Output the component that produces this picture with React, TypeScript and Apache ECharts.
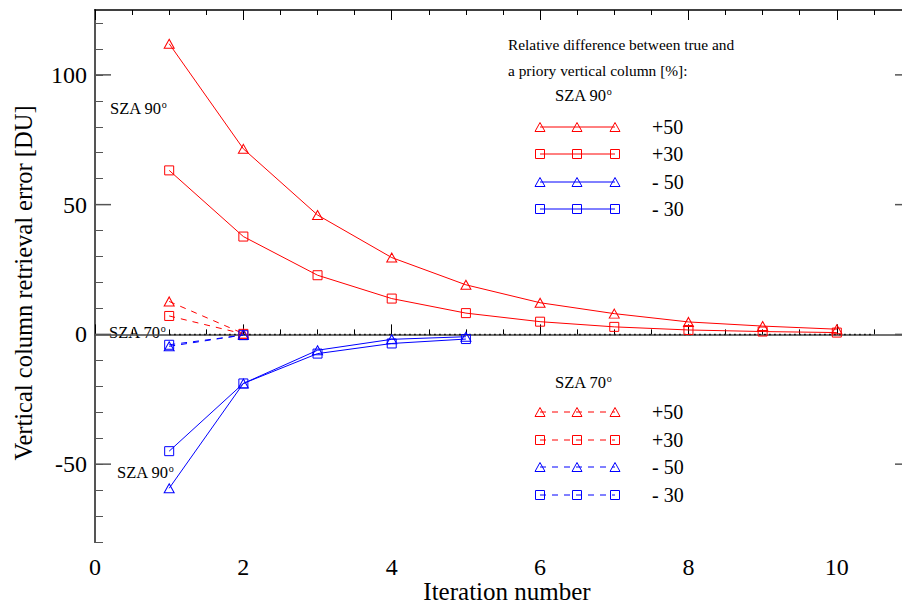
import React, { useEffect, useRef } from "react";
import * as echarts from "echarts";

const iterations = [1, 2, 3, 4, 5, 6, 7, 8, 9, 10];
const sza90Plus50 = [112, 71.5, 46.0, 29.6, 19.1, 12.2, 8.0, 4.8, 3.2, 2.0];
const sza90Plus30 = [63.2, 37.7, 22.8, 13.8, 8.2, 4.9, 2.9, 1.7, 1.1, 0.7];
const sza90Minus50 = [-59.3, -18.9, -6.1, -1.9, -0.9];
const sza90Minus30 = [-45.0, -18.9, -7.4, -3.5, -1.8];
const sza70Plus50 = [12.7, 0.3];
const sza70Plus30 = [7.1, 0.2];
const sza70Minus50 = [-4.6, -0.2];
const sza70Minus30 = [-4.0, -0.3];
const zeroLineX = [1, 10.5];
const yMajorTicks = [-50, 0, 50, 100];
const legendLabels = ["+50", "+30", "- 50", "- 30"];

const RED = "#ff0000";
const BLUE = "#0000ff";
const FONT = "Liberation Serif";

function pairs(vals: number[]) {
  return vals.map((v, i) => [iterations[i], v]);
}

function mkSeries(name: string, vals: number[], color: string, symbol: string, dashed: boolean) {
  return {
    name,
    type: "line",
    data: pairs(vals),
    xAxisIndex: 0,
    yAxisIndex: 0,
    symbol,
    symbolSize: symbol === "triangle" ? [10, 9] : [9, 9],
    showSymbol: true,
    lineStyle: { color, width: 1, type: dashed ? [6, 6] : "solid" },
    itemStyle: { color: "rgba(0,0,0,0)", borderColor: color, borderWidth: 1 },
    emphasis: { disabled: true },
    z: 3,
  };
}

function szaText(x: number, y: number, deg: string, size = 16.5) {
  return {
    type: "text",
    x,
    y,
    style: {
      text: "SZA " + deg + "{s|o}",
      font: `${size}px "${FONT}"`,
      fill: "#000",
      verticalAlign: "middle",
      rich: {
        s: { fontSize: 10, fontFamily: FONT, verticalAlign: "top", lineHeight: 18 },
      },
    },
  };
}

function legendRow(cy: number, color: string, symbol: string, dashed: boolean, label: string) {
  const xs = [540, 577, 615];
  const els: any[] = [
    {
      type: "line",
      shape: { x1: 540, y1: cy, x2: 615, y2: cy },
      style: { stroke: color, lineWidth: 1, lineDash: dashed ? [6, 6] : null },
    },
  ];
  xs.forEach((cx) => {
    if (symbol === "triangle") {
      els.push({
        type: "polygon",
        shape: { points: [[cx - 5, cy + 4.5], [cx + 5, cy + 4.5], [cx, cy - 4.5]] },
        style: { fill: "none", stroke: color, lineWidth: 1 },
      });
    } else {
      els.push({
        type: "rect",
        shape: { x: cx - 4.5, y: cy - 4.5, width: 9, height: 9 },
        style: { fill: "none", stroke: color, lineWidth: 1 },
      });
    }
  });
  els.push({
    type: "text",
    x: 652,
    y: cy,
    style: { text: label, font: `20px "${FONT}"`, fill: "#000", verticalAlign: "middle" },
  });
  return els;
}

export default function App() {
  const ref = useRef<HTMLDivElement>(null);
  useEffect(() => {
    if (!ref.current) return;
    const chart = echarts.init(ref.current, null, { renderer: "svg" });
    const axisFont = { fontFamily: FONT, fontSize: 24, color: "#000" };
    const option: any = {
      animation: false,
      backgroundColor: "#fff",
      grid: { left: 95, top: 10, width: 816, height: 532, outerBoundsMode: "none", containLabel: false },
      xAxis: [
        {
          type: "value",
          min: 0,
          max: 11,
          interval: 0.5,
          position: "bottom",
          axisLine: { show: true, lineStyle: { color: "#444", width: 1.5 } },
          axisTick: { show: true, inside: true, length: 5, lineStyle: { color: "#000" } },
          axisLabel: {
            ...axisFont,
            margin: 13,
            showMaxLabel: false,
            formatter: (v: number) => (Math.abs(v % 2) < 1e-9 && v <= 10 ? String(v) : ""),
          },
          splitLine: { show: false },
        },
        {
          type: "value",
          min: 0,
          max: 11,
          interval: 2,
          position: "bottom",
          axisLine: { show: false },
          axisTick: { show: true, inside: true, length: 10, lineStyle: { color: "#000" } },
          axisLabel: { show: false },
          splitLine: { show: false },
        },
        {
          type: "value",
          min: 0,
          max: 11,
          interval: 0.5,
          position: "top",
          axisLine: { show: true, lineStyle: { color: "#000", width: 1.5 } },
          axisTick: { show: true, inside: true, length: 5, lineStyle: { color: "#000" } },
          axisLabel: { show: false },
          splitLine: { show: false },
        },
        {
          type: "value",
          min: 0,
          max: 11,
          interval: 2,
          position: "top",
          axisLine: { show: false },
          axisTick: { show: true, inside: true, length: 10, lineStyle: { color: "#000" } },
          axisLabel: { show: false },
          splitLine: { show: false },
        },
      ],
      yAxis: [
        {
          type: "value",
          min: -80,
          max: 125,
          interval: 10,
          position: "left",
          axisLine: { show: true, lineStyle: { color: "#555", width: 2 } },
          axisTick: { show: true, inside: true, length: 8, lineStyle: { color: "#555" } },
          axisLabel: {
            ...axisFont,
            margin: 8,
            showMaxLabel: false,
            formatter: (v: number) => (Math.abs(v % 50) < 1e-9 ? String(v) : ""),
          },
          splitLine: { show: false },
        },
        {
          type: "value",
          min: -80,
          max: 125,
          interval: 10,
          position: "right",
          axisLine: { show: true, lineStyle: { color: "#555", width: 2 } },
          axisTick: { show: false },
          axisLabel: { show: false },
          splitLine: { show: false },
        },
      ],
      series: [
        {
          name: "zero",
          type: "line",
          data: zeroLineX.map((x) => [x, 0]),
          symbol: "none",
          lineStyle: { color: "#000", width: 1.5, type: [1.5, 3.5] },
          emphasis: { disabled: true },
          z: 2,
        },
        mkSeries("SZA90 +50", sza90Plus50, RED, "triangle", false),
        mkSeries("SZA90 +30", sza90Plus30, RED, "rect", false),
        mkSeries("SZA90 -50", sza90Minus50, BLUE, "triangle", false),
        mkSeries("SZA90 -30", sza90Minus30, BLUE, "rect", false),
        mkSeries("SZA70 +50", sza70Plus50, RED, "triangle", true),
        mkSeries("SZA70 +30", sza70Plus30, RED, "rect", true),
        mkSeries("SZA70 -50", sza70Minus50, BLUE, "triangle", true),
        mkSeries("SZA70 -30", sza70Minus30, BLUE, "rect", true),
      ],
    };
    chart.setOption(option);

    const leftX = chart.convertToPixel({ xAxisIndex: 0 }, 0) as number;
    const rightX = chart.convertToPixel({ xAxisIndex: 0 }, 11) as number;
    const graphics: any[] = [];
    yMajorTicks.forEach((v) => {
      const py = chart.convertToPixel({ yAxisIndex: 0 }, v) as number;
      graphics.push({
        type: "line",
        shape: { x1: leftX, y1: py, x2: leftX + 16, y2: py },
        style: { stroke: "#555", lineWidth: 1.5 },
        z: 10,
      });
      graphics.push({
        type: "line",
        shape: { x1: rightX, y1: py, x2: rightX - 16, y2: py },
        style: { stroke: "#555", lineWidth: 1.5 },
        z: 10,
      });
    });
    // axis titles
    graphics.push({
      type: "text",
      x: 23,
      y: 283,
      rotation: Math.PI / 2,
      style: {
        text: "Vertical column retrieval error [DU]",
        font: `24.5px "${FONT}"`,
        fill: "#000",
        align: "center",
        verticalAlign: "middle",
        lineHeight: 22,
      },
    });
    graphics.push({
      type: "text",
      x: 507,
      y: 591,
      style: {
        text: "Iteration number",
        font: `25px "${FONT}"`,
        fill: "#000",
        align: "center",
        verticalAlign: "middle",
        lineHeight: 20,
      },
    });
    graphics.push(szaText(110, 108, "90"));
    graphics.push(szaText(109, 332, "70"));
    graphics.push(szaText(117, 472, "90"));
    graphics.push({
      type: "text",
      x: 508,
      y: 44,
      style: { text: "Relative difference between true and", font: `15.4px "${FONT}"`, fill: "#000", verticalAlign: "middle" },
    });
    graphics.push({
      type: "text",
      x: 508,
      y: 70,
      style: { text: "a priory vertical column [%]:", font: `15.4px "${FONT}"`, fill: "#000", verticalAlign: "middle" },
    });
    graphics.push(szaText(555, 95, "90"));
    graphics.push(szaText(555, 382, "70"));
    const cols = [RED, RED, BLUE, BLUE];
    const syms = ["triangle", "rect", "triangle", "rect"];
    const ys90 = [127, 154, 182, 209];
    const ys70 = [412, 440, 467, 495];
    ys90.forEach((cy, i) => graphics.push(...legendRow(cy, cols[i], syms[i], false, legendLabels[i])));
    ys70.forEach((cy, i) => graphics.push(...legendRow(cy, cols[i], syms[i], true, legendLabels[i])));
    chart.setOption({ graphic: graphics });

    return () => chart.dispose();
  }, []);
  return (
    <div style={{ position: "fixed", left: 0, top: 0, width: 902, height: 603, overflow: "hidden", background: "#fff" }}>
      <div ref={ref} style={{ width: 930, height: 603 }} />
    </div>
  );
}
